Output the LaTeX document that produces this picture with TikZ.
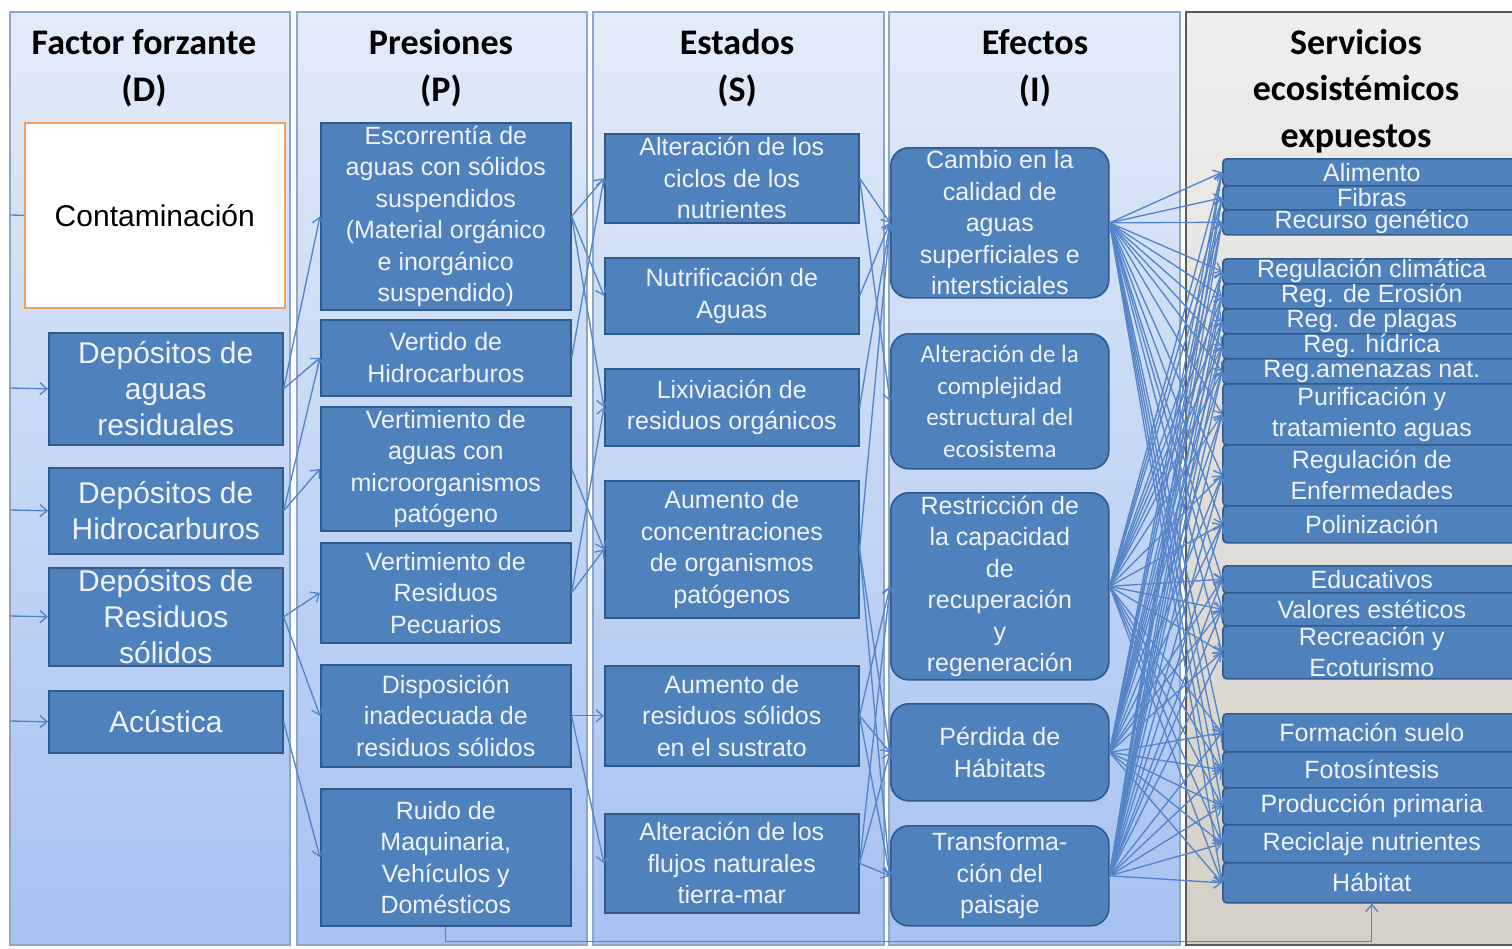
\documentclass[tikz,border=0pt]{standalone}
\usepackage{fontspec}
\setmainfont{Liberation Sans}
\newfontfamily\hdfont{Carlito}
\usetikzlibrary{arrows.meta}
\definecolor{boxblue}{HTML}{4F81BD}
\definecolor{boxedge}{HTML}{30598C}
\definecolor{linkblue}{HTML}{5585C8}
\definecolor{paneltop}{HTML}{E2EBF8}
\definecolor{panelbot}{HTML}{A6C2F1}
\definecolor{paneledge}{HTML}{8FA6C8}
\definecolor{greytop}{HTML}{EEEEEE}
\definecolor{greybot}{HTML}{D4D0C6}
\definecolor{boxtext}{HTML}{EEF3FB}
\definecolor{contedge}{HTML}{F0A060}
\newcommand\mybox[7]{\node[#1, anchor=north west, minimum width={#5-#3}, minimum height={#6-#4}] (#2) at (#3,#4) {#7};}
\begin{document}
\begin{tikzpicture}[x=1pt,y=-1pt,
  blbox/.style={draw=boxedge, line width=1.6pt, fill=boxblue, text=boxtext, align=center, inner sep=0pt, font=\fontsize{25}{31.5}\selectfont},
  dbox/.style={blbox, font=\fontsize{30}{36}\selectfont},
  ebox/.style={blbox, rounded corners=18pt},
  svbox/.style={blbox, rounded corners=4pt, font=\fontsize{25}{31}\selectfont},
  hd/.style={align=center, inner sep=0pt, font=\hdfont\bfseries\fontsize{36}{46.5}\selectfont},
  link/.style={draw=linkblue, line width=1.35pt, -{Straight Barb[length=7pt,width=12pt]}},
  panel/.style={draw=paneledge, line width=1.5pt, top color=paneltop, bottom color=panelbot}
]
\useasboundingbox (0,0) rectangle (1512,948);
\fill[white] (0,0) rectangle (1512,948);
% panels
\path[panel] (10,12) rectangle (290,945);
\path[panel] (297,12) rectangle (587,945);
\path[panel] (593,12) rectangle (884,945);
\path[panel] (889,12) rectangle (1180,945);
\path[draw=black!65, line width=1.5pt, top color=greytop, bottom color=greybot] (1186,12) rectangle (1530,945);
% headers
\node[hd] (hD) at (144,68) {Factor forzante\\(D)};
\node[hd] (hP) at (441,68) {Presiones\\(P)};
\node[hd] (hS) at (737,68) {Estados\\(S)};
\node[hd] (hI) at (1035,68) {Efectos\\(I)};
\node[hd] (hSE) at (1356,91) {Servicios\\ecosistémicos\\expuestos};
% D column
\mybox{dbox, fill=white, draw=contedge, text=black}{dCon}{24}{122}{284}{307}{Contaminación}
\mybox{dbox}{dAR}{48}{332}{282}{444}{Depósitos de\\aguas\\residuales}
\mybox{dbox}{dHid}{48}{467}{282}{553}{Depósitos de\\Hidrocarburos}
\mybox{dbox}{dRS}{48}{567}{282}{665}{Depósitos de\\Residuos\\sólidos}
\mybox{dbox}{dAc}{48}{690}{282}{752}{Acústica}
% P column
\mybox{blbox}{pEsc}{320}{122}{570}{309}{Escorrentía de\\aguas con sólidos\\suspendidos\\(Material orgánico\\e inorgánico\\suspendido)}
\mybox{blbox}{pVer}{320}{319}{570}{395}{Vertido de\\Hidrocarburos}
\mybox{blbox}{pMic}{320}{406}{570}{530}{Vertimiento de\\aguas con\\microorganismos\\patógeno}
\mybox{blbox}{pPec}{320}{542}{570}{642}{Vertimiento de\\Residuos\\Pecuarios}
\mybox{blbox}{pDis}{320}{664}{570}{766}{Disposición\\inadecuada de\\residuos sólidos}
\mybox{blbox}{pRui}{320}{788}{570}{925}{Ruido de\\Maquinaria,\\Vehículos y\\Domésticos}
% S column
\mybox{blbox}{s1}{604}{133}{858}{222}{Alteración de los\\ciclos de los\\nutrientes}
\mybox{blbox}{s2}{604}{257}{858}{333}{Nutrificación de\\Aguas}
\mybox{blbox}{s3}{604}{368}{858}{445}{Lixiviación de\\residuos orgánicos}
\mybox{blbox}{s4}{604}{480}{858}{617}{Aumento de\\concentraciones\\de organismos\\patógenos}
\mybox{blbox}{s5}{604}{665}{858}{765}{Aumento de\\residuos sólidos\\en el sustrato}
\mybox{blbox}{s6}{604}{813}{858}{912}{Alteración de los\\flujos naturales\\tierra-mar}
% I column
\mybox{ebox}{e1}{890}{147}{1108}{297}{Cambio en la\\calidad de\\aguas\\superficiales e\\intersticiales}
\mybox{ebox, font=\hdfont\fontsize{25}{31.5}\selectfont}{e2}{890}{333}{1108}{468}{Alteración de la\\complejidad\\estructural del\\ecosistema}
\mybox{ebox}{e3}{890}{492}{1108}{679}{Restricción de\\la capacidad\\de\\recuperación\\y\\regeneración}
\mybox{ebox}{e4}{890}{703}{1108}{800}{Pérdida de\\Hábitats}
\mybox{ebox}{e5}{890}{825}{1108}{925}{Transforma-\\ción del\\paisaje}
% Services
\mybox{svbox}{v1}{1222}{158}{1520}{185}{Alimento}
\mybox{svbox}{v2}{1222}{185}{1520}{209}{Fibras}
\mybox{svbox}{v3}{1222}{209}{1520}{234}{Recurso genético}
\mybox{svbox}{v4}{1222}{258}{1520}{283}{Regulación climática}
\mybox{svbox}{v5}{1222}{283}{1520}{308}{Reg. de Erosión}
\mybox{svbox}{v6}{1222}{308}{1520}{333}{Reg. de plagas}
\mybox{svbox}{v7}{1222}{333}{1520}{358}{Reg. hídrica}
\mybox{svbox}{v8}{1222}{358}{1520}{383}{Reg.amenazas nat.}
\mybox{svbox}{v9}{1222}{383}{1520}{444}{Purificación y\\tratamiento aguas}
\mybox{svbox}{v10}{1222}{444}{1520}{505}{Regulación de\\Enfermedades}
\mybox{svbox}{v11}{1222}{505}{1520}{542}{Polinización}
\mybox{svbox}{v12}{1222}{565}{1520}{592}{Educativos}
\mybox{svbox}{v13}{1222}{592}{1520}{625}{Valores estéticos}
\mybox{svbox}{v14}{1222}{625}{1520}{678}{Recreación y\\Ecoturismo}
\mybox{svbox}{v15}{1222}{713}{1520}{751}{Formación suelo}
\mybox{svbox}{v16}{1222}{751}{1520}{787}{Fotosíntesis}
\mybox{svbox}{v17}{1222}{787}{1520}{824}{Producción primaria}
\mybox{svbox}{v18}{1222}{824}{1520}{862}{Reciclaje nutrientes}
\mybox{svbox}{v19}{1222}{862}{1520}{902}{Hábitat}
% left inputs
\coordinate (in0) at (10,215);
\coordinate (in1) at (10,388);
\coordinate (in2) at (10,510);
\coordinate (in3) at (10,616);
\coordinate (in4) at (10,721);
\draw[draw=linkblue, line width=1.35pt] (in0) -- (dCon.west);
\draw[link] (in1) -- (dAR.west);
\draw[link] (in2) -- (dHid.west);
\draw[link] (in3) -- (dRS.west);
\draw[link] (in4) -- (dAc.west);
% D -> P
\draw[link] (dAR.east) -- (pEsc.west);
\draw[link] (dAR.east) -- (pVer.west);
\draw[link] (dHid.east) -- (pVer.west);
\draw[link] (dHid.east) -- (pMic.west);
\draw[link] (dRS.east) -- (pPec.west);
\draw[link] (dRS.east) -- (pDis.west);
\draw[link] (dAc.east) -- (pRui.west);
% P -> S
\draw[link] (pEsc.east) -- (s1.west);
\draw[link] (pEsc.east) -- (s2.west);
\draw[link] (pEsc.east) -- (s3.west);
\draw[link] (pVer.east) -- (s1.west);
\draw[link] (pMic.east) -- (s4.west);
\draw[link] (pPec.east) -- (s3.west);
\draw[link] (pPec.east) -- (s4.west);
\draw[link] (pDis.east) -- (s5.west);
\draw[link] (pDis.east) -- (s6.west);
% S -> I
\draw[link] (s1.east) -- (e1.west);
\draw[link] (s1.east) -- (e2.west);
\draw[link] (s2.east) -- (e1.west);
\draw[link] (s3.east) -- (e1.west);
\draw[link] (s4.east) -- (e1.west);
\draw[link] (s4.east) -- (e4.west);
\draw[link] (s4.east) -- (e5.west);
\draw[link] (s5.east) -- (e3.west);
\draw[link] (s5.east) -- (e4.west);
\draw[link] (s5.east) -- (e5.west);
\draw[link] (s6.east) -- (e3.west);
\draw[link] (s6.east) -- (e4.west);
\draw[link] (s6.east) -- (e5.west);
% I -> Services
\foreach \e in {e1,e3,e4,e5}{
  \foreach \v in {1,...,19}{
    \draw[link] (\e.east) -- (v\v.west);
  }
}
% Ruido -> Habitat
\draw[link] (pRui.south) -- ++(0,15) -| (v19.south);
\end{tikzpicture}
\end{document}
